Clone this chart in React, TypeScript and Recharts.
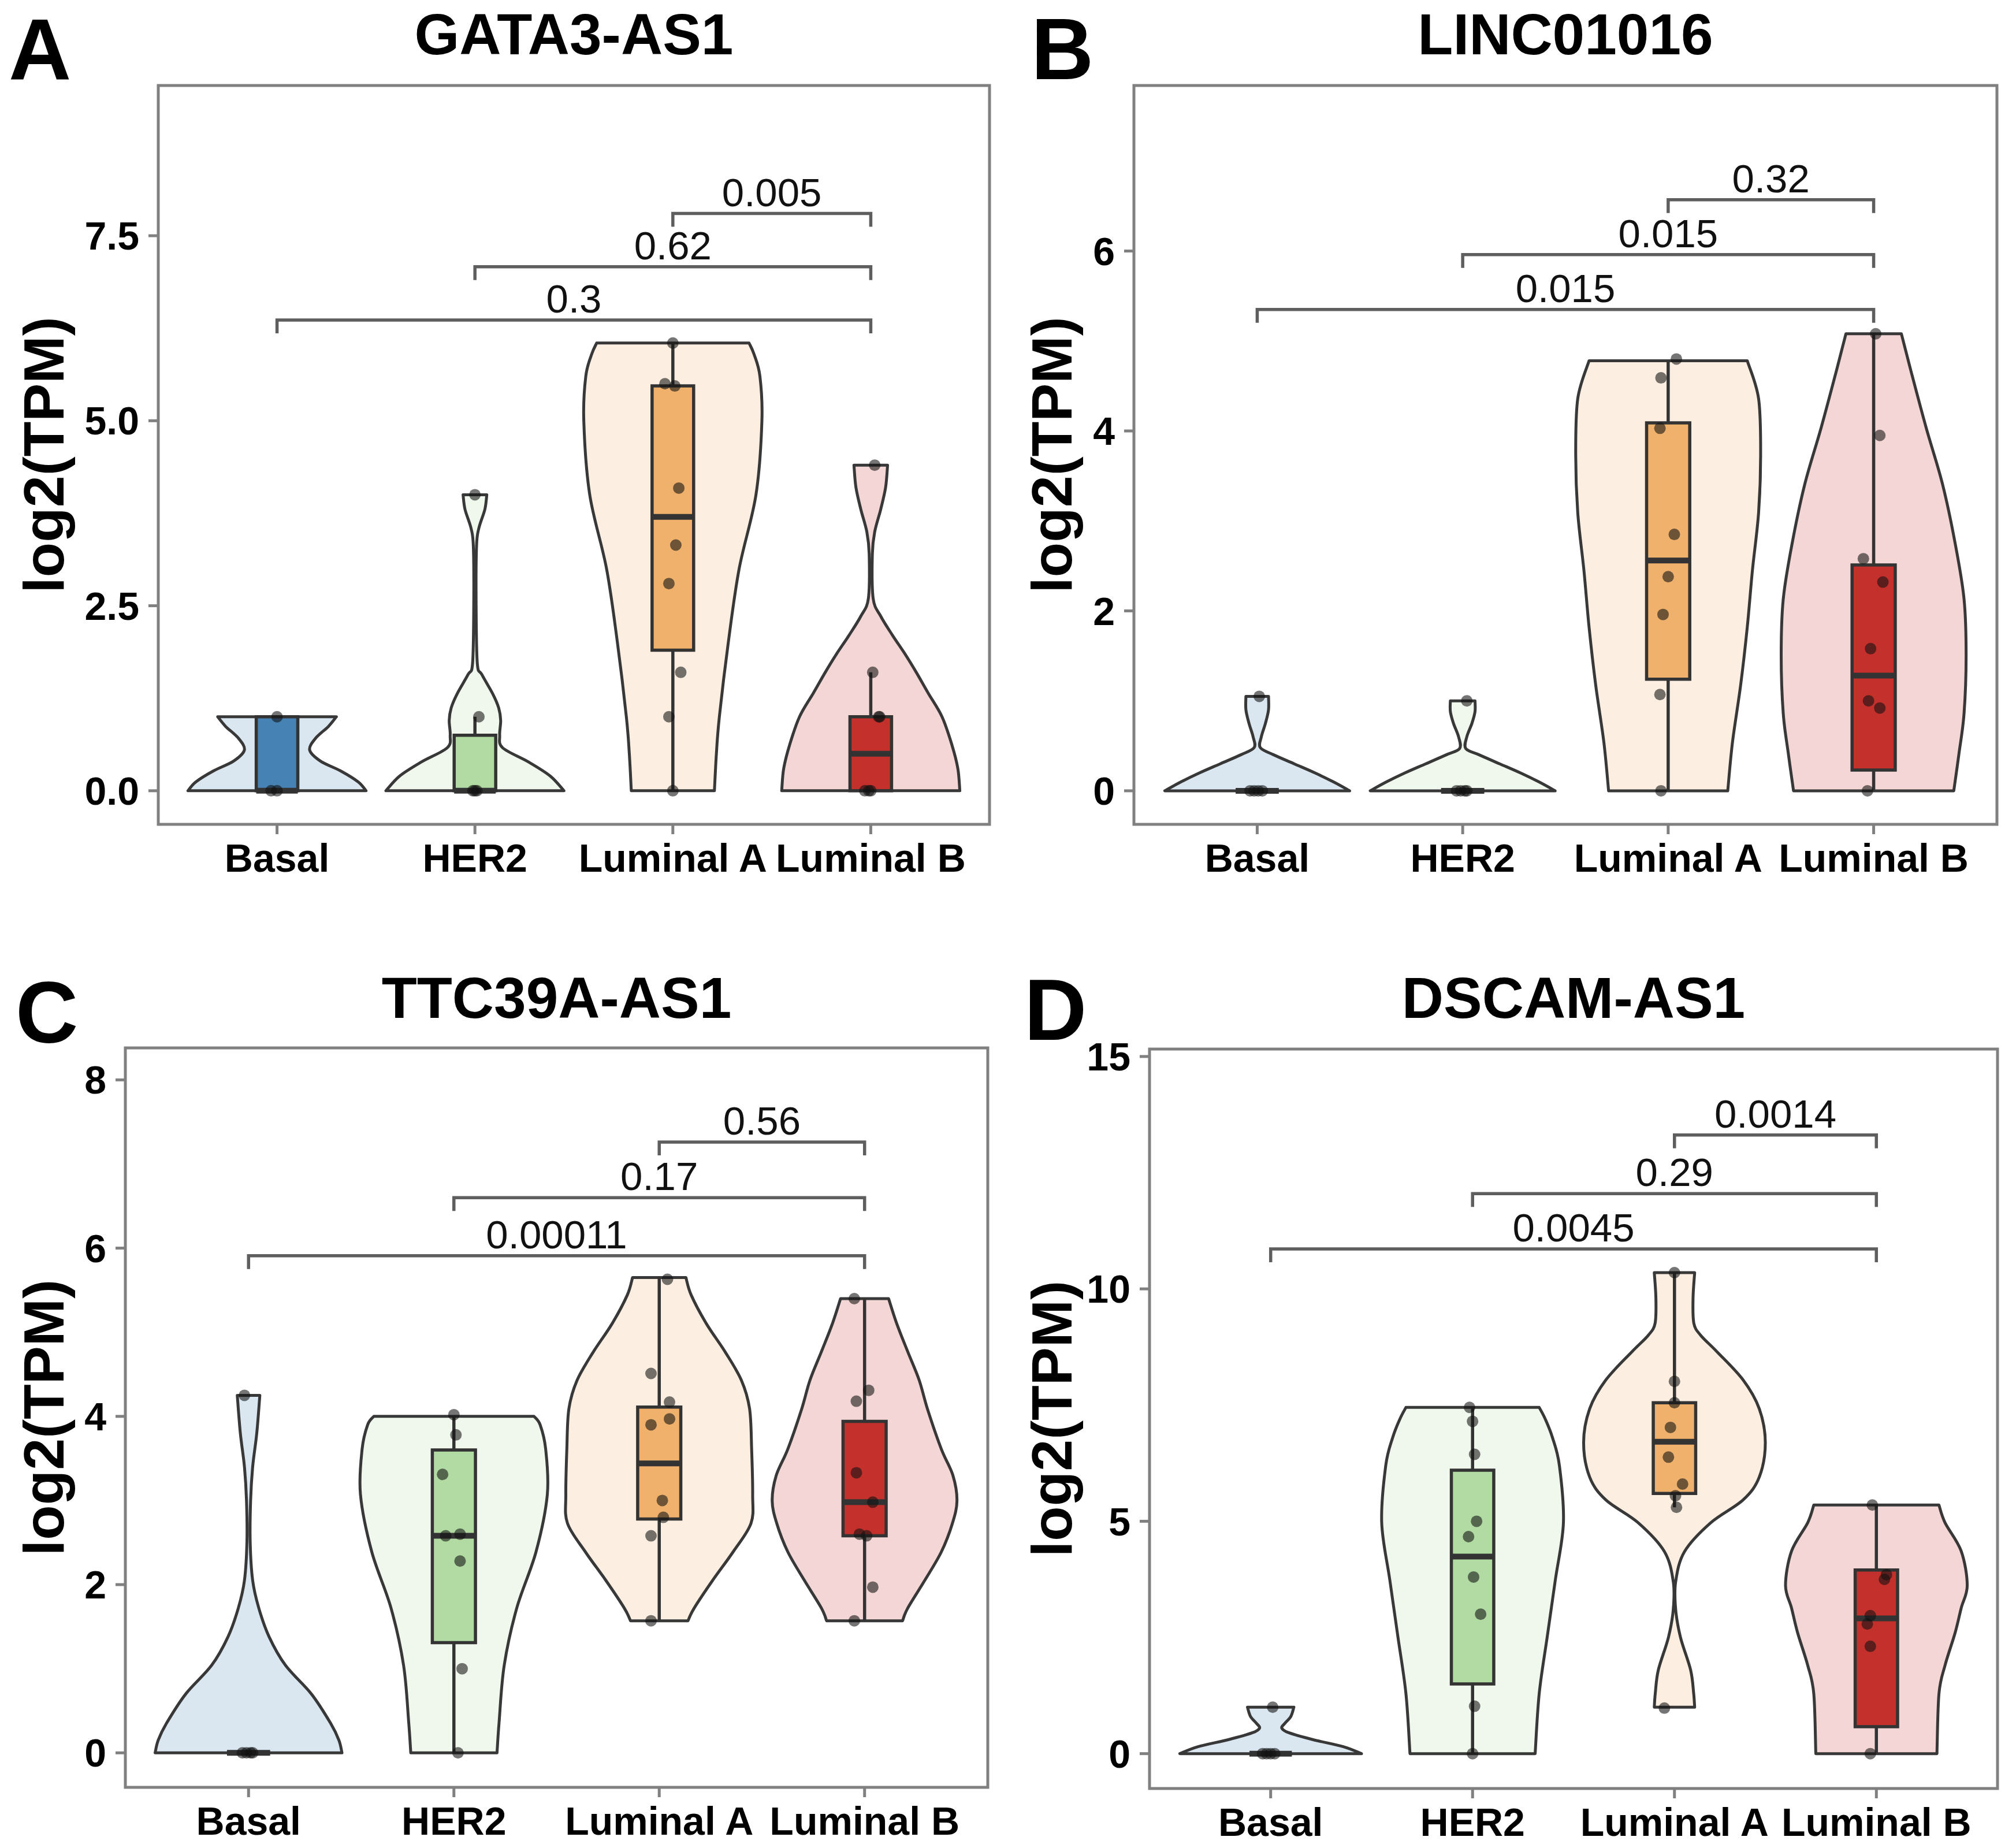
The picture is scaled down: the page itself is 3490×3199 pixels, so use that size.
import React from "react";
import { ComposedChart, Scatter, XAxis, YAxis, ReferenceArea } from "recharts";

const FONT = "'Liberation Sans', Arial, Helvetica, sans-serif";
const GROUPS = ["Basal", "HER2", "Luminal A", "Luminal B"];
const COLORS = ["#4682B4", "#B2DBA3", "#EFB16B", "#C4302B"];

// violin outlines: [log2(TPM), half width in category units]
// boxes: [lower whisker, Q1, median, Q3, upper whisker]
// points: [log2(TPM), jitter offset]
// tests: [from group, to group, bracket height, p value]

// ---- A: GATA3-AS1 ----
const gataViolin = [
  [[0, 0.45], [0.12, 0.41], [0.27, 0.32], [0.4, 0.22], [0.55, 0.165], [0.71, 0.195], [0.87, 0.26], [1.0, 0.3]],
  [[0, 0.45], [0.2, 0.38], [0.39, 0.27], [0.58, 0.14], [0.75, 0.125], [0.95, 0.13], [1.12, 0.12], [1.31, 0.09], [1.57, 0.035], [1.72, 0.012], [2.5, 0.006], [3.3, 0.008], [3.55, 0.02], [3.8, 0.05], [4.0, 0.06]],
  [[0, 0.21], [0.5, 0.22], [1.0, 0.235], [2.0, 0.28], [3.0, 0.335], [4.0, 0.42], [5.0, 0.45], [5.6, 0.44], [5.9, 0.41], [6.05, 0.385]],
  [[0, 0.45], [0.3, 0.44], [0.62, 0.41], [1.0, 0.36], [1.32, 0.29], [1.6, 0.23], [1.84, 0.175], [2.1, 0.11], [2.36, 0.05], [2.6, 0.012], [3.2, 0.008], [3.5, 0.02], [3.8, 0.05], [4.1, 0.075], [4.4, 0.085]],
];
const gataBox = [
  [0, 0, 0, 1, 1],
  [0, 0, 0, 0.75, 1.0],
  [0, 1.9, 3.7, 5.47, 6.05],
  [0, 0, 0.5, 1.0, 1.6],
];
const gataPoints = [
  [[1.0, 0.0], [0, -0.03], [0, 0.0]],
  [[4.0, 0.0], [1.0, 0.02], [0, -0.01], [0, 0.01], [0, 0.0]],
  [[6.05, 0.0], [5.5, -0.04], [5.47, 0.01], [4.09, 0.03], [3.32, 0.015], [2.8, -0.02], [1.6, 0.04], [1.0, -0.02], [0, 0.0]],
  [[4.4, 0.02], [1.6, 0.01], [1.0, 0.04], [1.0, 0.045], [0, -0.03], [0, -0.01], [0, 0.0]],
];
const gataTests = [
  [3, 4, 7.8, "0.005"],
  [2, 4, 7.08, "0.62"],
  [1, 4, 6.36, "0.3"],
];

// ---- B: LINC01016 ----
const lincViolin = [
  [[0, 0.45], [0.1, 0.37], [0.2, 0.28], [0.3, 0.18], [0.4, 0.08], [0.48, 0.015], [0.6, 0.02], [0.75, 0.04], [0.9, 0.055], [1.05, 0.055]],
  [[0, 0.45], [0.1, 0.37], [0.2, 0.28], [0.3, 0.18], [0.4, 0.08], [0.47, 0.015], [0.6, 0.02], [0.75, 0.045], [0.88, 0.06], [1.0, 0.06]],
  [[0, 0.29], [0.54, 0.313], [1.18, 0.353], [1.82, 0.385], [2.45, 0.41], [3.09, 0.44], [3.73, 0.45], [4.36, 0.44], [4.78, 0.385]],
  [[0, 0.39], [0.41, 0.415], [0.86, 0.44], [1.5, 0.45], [2.13, 0.44], [2.77, 0.395], [3.41, 0.335], [4.04, 0.255], [4.68, 0.18], [5.08, 0.135]],
];
const lincBox = [
  [0, 0, 0, 0, 0],
  [0, 0, 0, 0, 0],
  [0, 1.24, 2.56, 4.09, 4.78],
  [0, 0.23, 1.28, 2.51, 5.08],
];
const lincPoints = [
  [[1.05, 0.01], [0, -0.035], [0, -0.015], [0, 0.005], [0, 0.025]],
  [[1.0, 0.02], [0, -0.03], [0, -0.01], [0, 0.01], [0, 0.02]],
  [[4.8, 0.04], [4.59, -0.035], [4.03, -0.04], [2.85, 0.03], [2.38, 0.0], [1.96, -0.025], [1.07, -0.04], [0, -0.035]],
  [[5.08, 0.01], [3.95, 0.03], [2.58, -0.05], [2.32, 0.045], [1.58, -0.015], [1.0, -0.025], [0.92, 0.03], [0, -0.03]],
];
const lincTests = [
  [3, 4, 6.57, "0.32"],
  [2, 4, 5.96, "0.015"],
  [1, 4, 5.35, "0.015"],
];

// ---- C: TTC39A-AS1 ----
const ttcViolin = [
  [[0, 0.455], [0.15, 0.44], [0.35, 0.4], [0.7, 0.306], [1.04, 0.18], [1.38, 0.1], [1.72, 0.05], [2.05, 0.02], [2.5, 0.008], [3.0, 0.01], [3.4, 0.02], [3.8, 0.04], [4.25, 0.055]],
  [[0, 0.21], [0.36, 0.22], [1.04, 0.245], [1.72, 0.306], [2.39, 0.4], [3.07, 0.455], [3.61, 0.447], [3.9, 0.42], [4.0, 0.39]],
  [[1.57, 0.14], [1.72, 0.17], [2.05, 0.26], [2.39, 0.36], [2.73, 0.447], [3.07, 0.455], [3.61, 0.45], [4.09, 0.44], [4.43, 0.4], [4.77, 0.32], [5.1, 0.23], [5.44, 0.156], [5.65, 0.13]],
  [[1.57, 0.185], [1.72, 0.21], [2.05, 0.293], [2.39, 0.374], [2.73, 0.428], [3.0, 0.45], [3.3, 0.43], [3.61, 0.374], [4.09, 0.306], [4.43, 0.266], [4.77, 0.21], [5.1, 0.157], [5.4, 0.117]],
];
const ttcBox = [
  [0, 0, 0, 0, 0],
  [0, 1.31, 2.58, 3.6, 4.0],
  [1.57, 2.78, 3.44, 4.11, 5.65],
  [1.57, 2.58, 2.98, 3.94, 5.4],
];
const ttcPoints = [
  [[4.25, -0.02], [0, -0.03], [0, -0.01], [0, 0.01], [0, 0.02]],
  [[4.02, 0.0], [3.78, 0.01], [3.31, -0.055], [2.58, -0.04], [2.6, 0.03], [2.28, 0.03], [1.0, 0.04], [0, 0.02]],
  [[5.63, 0.04], [4.51, -0.04], [4.17, 0.05], [3.97, 0.05], [3.9, -0.04], [3.0, 0.015], [2.8, 0.02], [2.58, -0.04], [1.57, -0.04]],
  [[5.4, -0.05], [4.31, 0.02], [4.18, -0.04], [3.33, -0.04], [2.98, 0.04], [2.6, -0.025], [2.58, 0.01], [1.97, 0.04], [1.57, -0.05]],
];
const ttcTests = [
  [3, 4, 7.26, "0.56"],
  [2, 4, 6.6, "0.17"],
  [1, 4, 5.91, "0.00011"],
];

// ---- D: DSCAM-AS1 ----
const dscamViolin = [
  [[0, 0.45], [0.15, 0.36], [0.3, 0.21], [0.45, 0.09], [0.55, 0.055], [0.65, 0.07], [0.8, 0.1], [1.0, 0.115]],
  [[0, 0.31], [1.29, 0.33], [2.52, 0.37], [3.74, 0.41], [4.97, 0.45], [6.2, 0.43], [6.81, 0.395], [7.2, 0.36], [7.45, 0.33]],
  [[1.0, 0.1], [1.3, 0.095], [1.8, 0.08], [2.5, 0.03], [3.1, 0.006], [3.7, 0.006], [4.35, 0.05], [4.97, 0.18], [5.46, 0.34], [5.95, 0.42], [6.69, 0.45], [7.42, 0.42], [8.04, 0.34], [8.65, 0.21], [9.0, 0.13], [9.26, 0.096], [9.8, 0.092], [10.35, 0.1]],
  [[0, 0.3], [1.29, 0.31], [1.9, 0.34], [2.6, 0.39], [3.13, 0.42], [3.62, 0.45], [4.36, 0.42], [4.97, 0.34], [5.35, 0.31]],
];
const dscamBox = [
  [0, 0, 0, 0, 0],
  [0, 1.5, 4.24, 6.1, 7.45],
  [5.3, 5.6, 6.71, 7.55, 10.35],
  [0, 0.58, 2.91, 3.95, 5.35],
];
const dscamPoints = [
  [[1.0, 0.01], [0, -0.04], [0, -0.02], [0, 0.0], [0, 0.02]],
  [[7.45, -0.015], [7.15, 0.0], [6.44, 0.01], [5.0, 0.02], [4.67, -0.02], [3.8, 0.005], [3.0, 0.04], [1.02, 0.01], [0, 0.0]],
  [[10.35, 0.0], [8.01, 0.0], [7.55, 0.0], [7.02, -0.02], [6.38, -0.03], [5.8, 0.04], [5.55, 0.005], [5.3, 0.01], [0.98, -0.05]],
  [[5.35, -0.02], [3.85, 0.05], [3.75, 0.04], [2.97, -0.03], [2.79, -0.045], [2.31, -0.03], [0, -0.03]],
];
const dscamTests = [
  [3, 4, 13.31, "0.0014"],
  [2, 4, 12.05, "0.29"],
  [1, 4, 10.86, "0.0045"],
];

const PANELS = [
  {
    letter: "A", title: "GATA3-AS1", left: 0, top: 0, width: 1745, height: 1600,
    plot: { l: 274, r: 1713, t: 148, b: 1427 }, letterPos: [15, 137], titleY: 94, labelX: 110,
    domain: [-0.454, 9.53], ticks: [0, 2.5, 5, 7.5], fmt: (v: number) => v.toFixed(1),
    violin: gataViolin, box: gataBox, points: gataPoints, tests: gataTests,
  },
  {
    letter: "B", title: "LINC01016", left: 1745, top: 0, width: 1745, height: 1600,
    plot: { l: 1963, r: 3457, t: 148, b: 1427 }, letterPos: [1785, 137], titleY: 94, labelX: 1855,
    domain: [-0.373, 7.84], ticks: [0, 2, 4, 6], fmt: (v: number) => String(v),
    violin: lincViolin, box: lincBox, points: lincPoints, tests: lincTests,
  },
  {
    letter: "C", title: "TTC39A-AS1", left: 0, top: 1650, width: 1745, height: 1549,
    plot: { l: 217, r: 1710, t: 1814, b: 3094 }, letterPos: [27, 1805], titleY: 1762, labelX: 110,
    domain: [-0.41, 8.38], ticks: [0, 2, 4, 6, 8], fmt: (v: number) => String(v),
    violin: ttcViolin, box: ttcBox, points: ttcPoints, tests: ttcTests,
  },
  {
    letter: "D", title: "DSCAM-AS1", left: 1745, top: 1650, width: 1745, height: 1549,
    plot: { l: 1990, r: 3458, t: 1816, b: 3096 }, letterPos: [1773, 1800], titleY: 1762, labelX: 1855,
    domain: [-0.75, 15.16], ticks: [0, 5, 10, 15], fmt: (v: number) => String(v),
    violin: dscamViolin, box: dscamBox, points: dscamPoints, tests: dscamTests,
  },
];

const BOX_HW = 0.105;
const X_AXIS_H = 100;
const OUTLINE = "#383838";

type Pt = { x: number; y: number };

// Catmull-Rom through pixel points, continuing from p[0]
const curveThrough = (p: Pt[]) => {
  let d = "";
  for (let i = 0; i < p.length - 1; i++) {
    const p0 = p[i - 1] || p[i];
    const p1 = p[i];
    const p2 = p[i + 1];
    const p3 = p[i + 2] || p2;
    const c1x = p1.x + (p2.x - p0.x) / 6;
    const c1y = p1.y + (p2.y - p0.y) / 6;
    const c2x = p2.x - (p3.x - p1.x) / 6;
    const c2y = p2.y - (p3.y - p1.y) / 6;
    d += ` C${c1x},${c1y} ${c2x},${c2y} ${p2.x},${p2.y}`;
  }
  return d;
};

const violinLine = (n: number, color: string) => (props: any) => {
  const pts: Pt[] = props.points;
  const right = pts.slice(0, n);
  const left = pts.slice(n);
  const d =
    `M${right[0].x},${right[0].y}` + curveThrough(right) +
    ` L${left[0].x},${left[0].y}` + curveThrough(left) + " Z";
  return <path d={d} fill={color} fillOpacity={0.2} stroke={OUTLINE} strokeWidth={5} strokeLinejoin="round" />;
};

const segLine = (width: number) => (props: any) => {
  const pts: Pt[] = props.points;
  return <path d={`M${pts[0].x},${pts[0].y} L${pts[1].x},${pts[1].y}`} stroke="#333" strokeWidth={width} fill="none" />;
};

const rectLine = (color: string) => (props: any) => {
  const pts: Pt[] = props.points;
  const d = "M" + pts.map((p) => `${p.x},${p.y}`).join(" L") + " Z";
  return <path d={d} fill={color} stroke="#333" strokeWidth={5.5} strokeLinejoin="miter" />;
};

const bracketLine = (props: any) => {
  const [a, b] = props.points as Pt[];
  const tip = 23;
  return (
    <path
      d={`M${a.x},${a.y + tip} L${a.x},${a.y} L${b.x},${b.y} L${b.x},${b.y + tip}`}
      stroke="#5e5e5e" strokeWidth={5.5} fill="none"
    />
  );
};

const noShape = () => <g />;
const dot = (p: any) => <circle cx={p.cx} cy={p.cy} r={10} fill="#111" fillOpacity={0.58} />;

function layers(violin: any[], box: any[], points: any[], tests: any[]) {
  const out: React.ReactNode[] = [];
  violin.forEach((prof: number[][], i: number) => {
    const pos = i + 1;
    const data = [
      ...prof.map(([v, w]) => ({ x: pos + w, y: v })),
      ...[...prof].reverse().map(([v, w]) => ({ x: pos - w, y: v })),
    ];
    out.push(
      <Scatter key={`v${i}`} data={data} line={violinLine(prof.length, COLORS[i])} shape={noShape} isAnimationActive={false} />
    );
  });
  box.forEach(([lo, q1, med, q3, hi]: number[], i: number) => {
    const pos = i + 1;
    out.push(
      <Scatter key={`w${i}`} data={[{ x: pos, y: lo }, { x: pos, y: hi }]} line={segLine(5.5)} shape={noShape} isAnimationActive={false} />
    );
    out.push(
      <Scatter
        key={`b${i}`}
        data={[
          { x: pos - BOX_HW, y: q1 }, { x: pos + BOX_HW, y: q1 },
          { x: pos + BOX_HW, y: q3 }, { x: pos - BOX_HW, y: q3 },
        ]}
        line={rectLine(COLORS[i])} shape={noShape} isAnimationActive={false}
      />
    );
    out.push(
      <Scatter key={`m${i}`} data={[{ x: pos - BOX_HW, y: med }, { x: pos + BOX_HW, y: med }]} line={segLine(10)} shape={noShape} isAnimationActive={false} />
    );
  });
  points.forEach((grp: number[][], i: number) => {
    out.push(
      <Scatter key={`p${i}`} data={grp.map(([v, dx]) => ({ x: i + 1 + dx, y: v }))} shape={dot} isAnimationActive={false} />
    );
  });
  tests.forEach(([from, to, y, label]: any[], k: number) => {
    out.push(
      <Scatter key={`s${k}`} data={[{ x: from, y }, { x: to, y }]} line={bracketLine} shape={noShape} isAnimationActive={false} />
    );
    out.push(
      <Scatter
        key={`t${k}`}
        data={[{ x: (from + to) / 2, y }]}
        shape={(p: any) => (
          <text x={p.cx} y={p.cy - 13} textAnchor="middle" fontSize={69} fontFamily={FONT} fill="#111">
            {label}
          </text>
        )}
        isAnimationActive={false}
      />
    );
  });
  return out;
}

const tickStyle = { fill: "#000", fontSize: 68, fontWeight: "bold", fontFamily: FONT };
const tickLineStyle = { stroke: "#808080", strokeWidth: 5 };

export default function App() {
  return (
    <div style={{ position: "absolute", left: 0, top: 0, width: 3490, height: 3199, background: "#fff", fontFamily: FONT }}>
      {PANELS.map((p) => (
        <div key={p.letter} style={{ position: "absolute", left: p.left, top: p.top }}>
          <ComposedChart
            width={p.width}
            height={p.height}
            margin={{
              top: p.plot.t - p.top,
              left: 0,
              right: p.left + p.width - p.plot.r,
              bottom: p.top + p.height - p.plot.b - X_AXIS_H,
            }}
          >
            <XAxis
              type="number" dataKey="x" domain={[0.4, 4.6]} allowDataOverflow
              ticks={[1, 2, 3, 4]} interval={0} tickFormatter={(v: number) => GROUPS[v - 1]}
              height={X_AXIS_H} axisLine={false} tick={tickStyle} tickLine={tickLineStyle}
              tickSize={17} tickMargin={17}
            />
            <YAxis
              type="number" dataKey="y" domain={p.domain} allowDataOverflow
              ticks={p.ticks} interval={0} tickFormatter={p.fmt}
              width={p.plot.l - p.left} axisLine={false} tick={tickStyle} tickLine={tickLineStyle}
              tickSize={17} tickMargin={16}
            />
            {layers(p.violin, p.box, p.points, p.tests)}
            <ReferenceArea
              x1={0.4} x2={4.6} y1={p.domain[0]} y2={p.domain[1]}
              fill="none" fillOpacity={0} stroke="#808080" strokeWidth={5}
            />
          </ComposedChart>
        </div>
      ))}
      <svg width={3490} height={3199} style={{ position: "absolute", left: 0, top: 0, pointerEvents: "none" }}>
        {PANELS.map((p) => (
          <g key={p.letter} fontFamily={FONT} fontWeight="bold" fill="#000">
            <text x={p.letterPos[0]} y={p.letterPos[1]} fontSize={150}>{p.letter}</text>
            <text x={(p.plot.l + p.plot.r) / 2} y={p.titleY} fontSize={100} textAnchor="middle">{p.title}</text>
            <text
              transform={`translate(${p.labelX},${(p.plot.t + p.plot.b) / 2}) rotate(-90)`}
              fontSize={99} textAnchor="middle"
            >
              log2(TPM)
            </text>
          </g>
        ))}
      </svg>
    </div>
  );
}
